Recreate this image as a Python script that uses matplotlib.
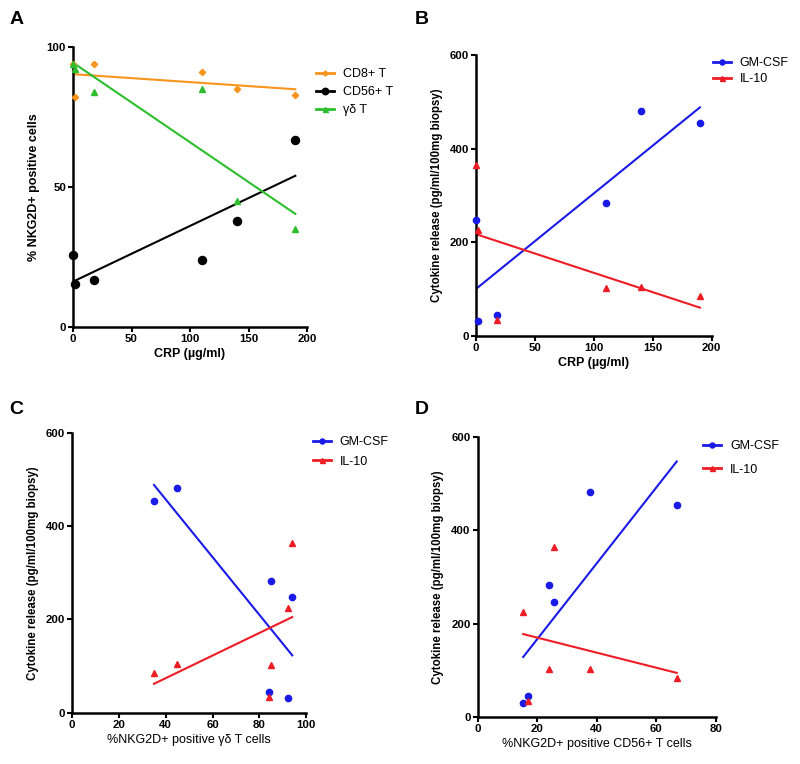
import matplotlib
matplotlib.use("Agg")
import matplotlib.pyplot as plt
import numpy as np

plt.rcParams['font.family'] = ['Liberation Sans', 'DejaVu Sans']

# ---- data (6 patients) ----
crp = [0, 2, 18, 110, 140, 190]
cd8 = [94, 82, 94, 91, 85, 83]
cd56 = [25.7, 15.3, 16.8, 23.9, 37.8, 66.9]
gd = [94, 92, 84, 85, 45, 35]
gmcsf = [247, 31, 45, 283, 481, 454]
il10 = [364, 225, 34, 103, 104, 85]

# regression line endpoints: (x0, x1, y0, y1)
fitA_cd8 = [0, 190, 90.3, 84.9]
fitA_cd56 = [0, 190, 16.2, 54.0]
fitA_gd = [0, 190, 94.4, 40.4]
fitB_gm = [0, 190, 100, 488]
fitB_il = [0, 190, 217, 60]
fitC_gm = [35, 94, 488, 123]
fitC_il = [35, 94, 62, 205]
fitD_gm = [15.3, 66.9, 129, 547]
fitD_il = [15.3, 66.9, 178, 95]

C_OR = '#F7941D'
C_BK = '#000000'
C_GR = '#2DBE2D'
C_BL = '#1A1AE6'
C_RD = '#EE1C25'

fig = plt.figure(figsize=(8, 7.64), dpi=100)

def style(ax, xlim, ylim, xticks, yticks):
    ax.set_xlim(*xlim)
    ax.set_ylim(*ylim)
    ax.set_xticks(xticks)
    ax.set_yticks(yticks)
    for s in ['top', 'right']:
        ax.spines[s].set_visible(False)
    for s in ['left', 'bottom']:
        ax.spines[s].set_linewidth(1.8)
    ax.tick_params(direction='out', length=3.5, width=1.5, labelsize=8.2, pad=1.5)
    for lab in ax.get_xticklabels() + ax.get_yticklabels():
        lab.set_fontweight('bold')

def fit(ax, f, color):
    ax.plot(f[:2], f[2:], color=color, lw=1.5, zorder=2)

def scatter(ax, x, y, color, marker, ms, label):
    ax.plot(x, y, ls='none', marker=marker, ms=ms, color=color, clip_on=False, zorder=3)
    # legend proxy
    ax.plot([], [], color=color, marker=marker, ms=ms * 0.8, lw=2, label=label)

def legend(ax, x, y, spacing):
    ax.legend(loc='upper left', bbox_to_anchor=(x, y), frameon=False, fontsize=9,
              handlelength=1.45, handletextpad=0.7, borderpad=0, borderaxespad=0,
              labelspacing=spacing)

# ---- Panel A ----
axA = fig.add_axes([0.09125, 0.572, 0.2925, 0.3665])
fit(axA, fitA_cd8, C_OR)
fit(axA, fitA_cd56, C_BK)
fit(axA, fitA_gd, C_GR)
scatter(axA, crp, cd8, C_OR, 'D', 3.2, 'CD8+ T')
scatter(axA, crp, cd56, C_BK, 'o', 5.8, 'CD56+ T')
scatter(axA, crp, gd, C_GR, '^', 4.5, 'γδ T')
style(axA, (0, 200), (0, 100), [0, 50, 100, 150, 200], [0, 50, 100])
axA.set_xlabel('CRP (µg/ml)', fontsize=9, fontweight='bold', labelpad=3)
axA.set_ylabel('% NKG2D+ positive cells', fontsize=9, fontweight='bold', labelpad=5)
legend(axA, 1.04, 0.925, 0.5)

# ---- Panel B ----
axB = fig.add_axes([0.595, 0.5606, 0.2946, 0.3674])
fit(axB, fitB_gm, C_BL)
fit(axB, fitB_il, C_RD)
scatter(axB, crp, gmcsf, C_BL, 'o', 4.5, 'GM-CSF')
scatter(axB, crp, il10, C_RD, '^', 4.5, 'IL-10')
style(axB, (0, 200), (0, 600), [0, 50, 100, 150, 200], [0, 200, 400, 600])
axB.set_xlabel('CRP (µg/ml)', fontsize=9, fontweight='bold', labelpad=3)
axB.set_ylabel('Cytokine release (pg/ml/100mg biopsy)', fontsize=8.3, fontweight='bold', labelpad=5)
legend(axB, 1.005, 0.993, 0.35)

# ---- Panel C ----
axC = fig.add_axes([0.09, 0.0671, 0.2929, 0.3665])
fit(axC, fitC_gm, C_BL)
fit(axC, fitC_il, C_RD)
scatter(axC, gd, gmcsf, C_BL, 'o', 4.5, 'GM-CSF')
scatter(axC, gd, il10, C_RD, '^', 4.5, 'IL-10')
style(axC, (0, 100), (0, 600), [0, 20, 40, 60, 80, 100], [0, 200, 400, 600])
axC.set_xlabel('%NKG2D+ positive γδ T cells', fontsize=9, labelpad=3)
axC.set_ylabel('Cytokine release (pg/ml/100mg biopsy)', fontsize=8.3, fontweight='bold', labelpad=5)
legend(axC, 1.027, 0.987, 0.6)

# ---- Panel D ----
axD = fig.add_axes([0.5971, 0.0611, 0.2975, 0.3673])
fit(axD, fitD_gm, C_BL)
fit(axD, fitD_il, C_RD)
scatter(axD, cd56, gmcsf, C_BL, 'o', 4.5, 'GM-CSF')
scatter(axD, cd56, il10, C_RD, '^', 4.5, 'IL-10')
style(axD, (0, 80), (0, 600), [0, 20, 40, 60, 80], [0, 200, 400, 600])
axD.set_xlabel('%NKG2D+ positive CD56+ T cells', fontsize=9, labelpad=3)
axD.set_ylabel('Cytokine release (pg/ml/100mg biopsy)', fontsize=8.3, fontweight='bold', labelpad=5)
legend(axD, 0.947, 0.987, 0.9)

# panel letters
for letter, x, y in [('A', 0.012, 0.985), ('B', 0.518, 0.985), ('C', 0.012, 0.475), ('D', 0.518, 0.475)]:
    fig.text(x, y, letter, fontsize=14, fontweight='bold', va='top', ha='left')

fig.savefig('out.png', dpi=100)
